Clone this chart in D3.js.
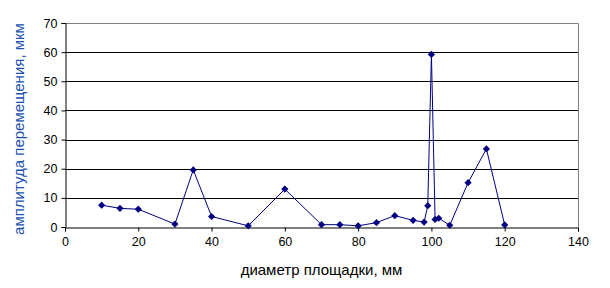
<!DOCTYPE html>
<head>
  <meta charset="utf-8">
  <script src="https://cdnjs.cloudflare.com/ajax/libs/d3/7.8.5/d3.min.js"></script>
</head>

<style>
body { margin: 0; background: #fff; }
svg text { font-family: "Liberation Sans", Arial, sans-serif; }
</style>

<body>
  <svg id="chart" width="610" height="288"></svg>
</body>

<script>

var diam = [10, 15, 20, 30, 35, 40, 50, 60, 70, 75, 80, 85, 90, 95, 98, 99, 100, 101, 102, 105, 110, 115, 120];
var ampl = [7.5, 6.4, 6.1, 1.0, 19.6, 3.6, 0.4, 13.0, 0.8, 0.8, 0.4, 1.5, 3.9, 2.3, 1.7, 7.3, 59.2, 2.6, 3.0, 0.6, 15.2, 26.8, 0.7];
var xTicks = [0, 20, 40, 60, 80, 100, 120, 140];
var yTicks = [0, 10, 20, 30, 40, 50, 60, 70];

var svg = d3.select('#chart');
var pLeft = 65, pRight = 578, pTop = 23, pBottom = 227;

var x = d3.scaleLinear().domain([0, 140]).range([pLeft, pRight]);
var y = d3.scaleLinear().domain([0, 70]).range([pBottom, pTop]);

// gridlines
svg.selectAll('.grid').data(yTicks.slice(1, -1)).enter().append('line')
  .attr('x1', pLeft).attr('x2', pRight)
  .attr('y1', function(d){ return Math.round(y(d)) + 0.5 })
  .attr('y2', function(d){ return Math.round(y(d)) + 0.5 })
  .attr('stroke', '#000');

// plot area border (top, right)
svg.append('path')
  .attr('d', 'M' + pLeft + ',' + (pTop + 0.5) + 'H' + (pRight + 0.5) + 'V' + pBottom)
  .attr('fill', 'none').attr('stroke', '#808080');

var xAxis = svg.append('g')
  .attr('transform', 'translate(0,' + (pBottom + 0.5) + ')')
  .call(d3.axisBottom(x).tickValues(xTicks).tickSizeOuter(0).tickSize(4).tickPadding(6));
var yAxis = svg.append('g')
  .attr('transform', 'translate(' + (pLeft + 0.5) + ',0)')
  .call(d3.axisLeft(y).tickValues(yTicks).tickSizeOuter(0).tickSize(4).tickPadding(4));

[xAxis, yAxis].forEach(function(g){
  g.select('.domain').attr('stroke', '#000');
  g.selectAll('line').attr('stroke', '#000');
  g.selectAll('text').attr('font-size', 12.5).attr('fill', '#000')
    .style('font-family', '"Liberation Sans", Arial, sans-serif');
});

var line = d3.line()
  .x(function(d, i){ return x(diam[i]) })
  .y(function(d){ return y(d) });

svg.append('path').datum(ampl)
  .attr('d', line)
  .attr('fill', 'none')
  .attr('stroke', '#000080')
  .attr('stroke-width', 1);

var sym = d3.symbol().type(d3.symbolSquare).size(26);
svg.selectAll('.pt').data(ampl).enter().append('path')
  .attr('d', sym)
  .attr('transform', function(d, i){ return 'translate(' + x(diam[i]) + ',' + y(d) + ') rotate(45)' })
  .attr('fill', '#000080');

svg.append('text')
  .attr('x', (pLeft + pRight) / 2).attr('y', 275)
  .attr('text-anchor', 'middle')
  .attr('font-size', 15)
  .attr('fill', '#000')
  .text('диаметр площадки, мм');

svg.append('text')
  .attr('transform', 'translate(24,129) rotate(-90)')
  .attr('text-anchor', 'middle')
  .attr('font-size', 15)
  .attr('fill', '#2050b0')
  .text('амплитуда перемещения, мкм');

</script>
